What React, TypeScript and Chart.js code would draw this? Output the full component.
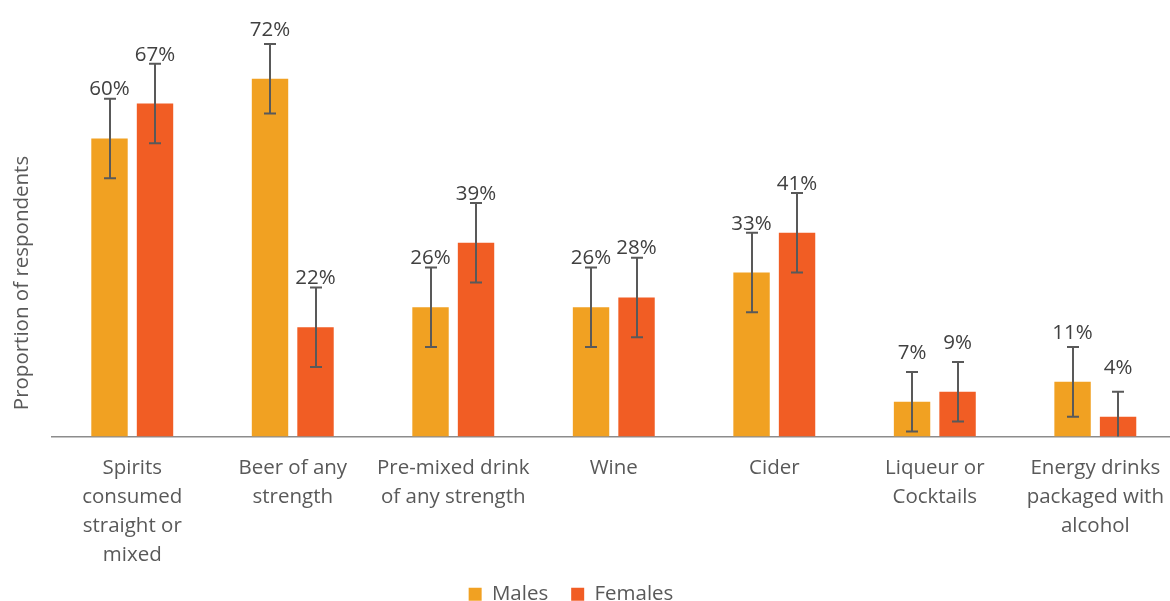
import React, { useEffect, useRef } from "react";
import { Chart, registerables } from "chart.js";

Chart.register(...registerables);

// ---------- data ----------
const categories: string[][] = [
  ["Spirits", "consumed", "straight or", "mixed"],
  ["Beer of any", "strength"],
  ["Pre-mixed drink", "of any strength"],
  ["Wine"],
  ["Cider"],
  ["Liqueur or", "Cocktails"],
  ["Energy drinks", "packaged with", "alcohol"],
];
const seriesNames = ["Males", "Females"];
const malesValues = [60, 72, 26, 26, 33, 7, 11];
const femalesValues = [67, 22, 39, 28, 41, 9, 4];
const malesErrors = [8, 7, 8, 8, 8, 6, 7];
const femalesErrors = [8, 8, 8, 8, 8, 6, 5];
const yAxisTitle = "Proportion of respondents";
const yMin = 0;
const yMax = 80;

// ---------- styles ----------
const FONT = "'Open Sans', 'DejaVu Sans', sans-serif";
const FONT_SIZE = 20.5;
const MALE_COLOR = "#F1A122";
const FEMALE_COLOR = "#F15D24";
const ERR_COLOR = "#595959";
const LABEL_COLOR = "#404040";
const TEXT_COLOR = "#595959";
const CANVAS_W = 1216;
const CANVAS_H = 630;
const CANVAS_SHIFT = 35;
const LEGEND_PAD = 23;
const LEGEND_TOP = 561;
const LEGEND_DX = -2;

const overlayPlugin = {
  id: "overlay",
  afterLayout(chart: any) {
    const lg = chart.legend;
    if (lg) {
      const dy = lg.top - LEGEND_TOP;
      lg.top -= dy;
      lg.bottom -= dy;
      lg.left += LEGEND_DX;
      lg.right += LEGEND_DX;
    }
  },
  afterDatasetsDraw(chart: any) {
    const ctx: CanvasRenderingContext2D = chart.ctx;
    const yScale = chart.scales.y;
    ctx.save();
    // error bars
    chart.data.datasets.forEach((ds: any, di: number) => {
      const meta = chart.getDatasetMeta(di);
      meta.data.forEach((bar: any, i: number) => {
        const v = ds.data[i];
        const e = ds.errors[i];
        const top = yScale.getPixelForValue(v + e);
        const lowVal = v - e;
        const bot = yScale.getPixelForValue(Math.max(lowVal, yMin));
        const x = Math.round(bar.x);
        ctx.strokeStyle = ERR_COLOR;
        ctx.lineWidth = 2;
        ctx.beginPath();
        ctx.moveTo(x, top);
        ctx.lineTo(x, bot);
        ctx.moveTo(x - 6, top);
        ctx.lineTo(x + 6, top);
        if (lowVal >= yMin) {
          ctx.moveTo(x - 6, bot);
          ctx.lineTo(x + 6, bot);
        }
        ctx.stroke();
      });
    });
    // value labels
    ctx.fillStyle = LABEL_COLOR;
    ctx.font = `${FONT_SIZE}px ${FONT}`;
    ctx.textAlign = "center";
    ctx.textBaseline = "alphabetic";
    chart.data.datasets.forEach((ds: any, di: number) => {
      const meta = chart.getDatasetMeta(di);
      meta.data.forEach((bar: any, i: number) => {
        ctx.fillText(`${ds.data[i]}%`, bar.x, bar.y - 43);
      });
    });
    ctx.restore();
  },
  afterDraw(chart: any) {
    const ctx: CanvasRenderingContext2D = chart.ctx;
    ctx.save();
    ctx.translate(CANVAS_SHIFT + 22, 283);
    ctx.rotate(-Math.PI / 2);
    ctx.fillStyle = TEXT_COLOR;
    ctx.font = `${FONT_SIZE}px ${FONT}`;
    ctx.textAlign = "center";
    ctx.textBaseline = "middle";
    ctx.fillText(yAxisTitle, 0, 0);
    ctx.restore();
  },
};

export default function App() {
  const canvasRef = useRef<HTMLCanvasElement | null>(null);

  useEffect(() => {
    let chart: Chart | null = null;
    let cancelled = false;
    const build = () => {
      if (cancelled || !canvasRef.current) return;
      chart = new Chart(canvasRef.current, {
        type: "bar",
        data: {
          labels: categories,
          datasets: [
            {
              label: seriesNames[0],
              data: malesValues,
              errors: malesErrors,
              backgroundColor: MALE_COLOR,
              borderWidth: 0,
              barPercentage: 0.8,
              categoryPercentage: 0.567,
            } as any,
            {
              label: seriesNames[1],
              data: femalesValues,
              errors: femalesErrors,
              backgroundColor: FEMALE_COLOR,
              borderWidth: 0,
              barPercentage: 0.8,
              categoryPercentage: 0.567,
            } as any,
          ],
        },
        options: {
          responsive: false,
          animation: false,
          layout: { padding: { top: 39, left: 0, right: 0, bottom: 0 } },
          plugins: {
            legend: {
              position: "bottom",
              align: "center",
              labels: {
                boxWidth: 13,
                boxHeight: 13,
                padding: LEGEND_PAD,
                color: TEXT_COLOR,
                font: { family: FONT, size: FONT_SIZE },
              },
            },
            tooltip: { enabled: false },
            title: { display: false },
          },
          scales: {
            x: {
              grid: { display: false, drawTicks: false },
              border: { display: true, color: "#8c8c8c", width: 1.5 },
              ticks: {
                autoSkip: false,
                maxRotation: 0,
                minRotation: 0,
                padding: 17,
                color: TEXT_COLOR,
                font: { family: FONT, size: FONT_SIZE, lineHeight: 29 / FONT_SIZE },
              },
              afterFit: (s: any) => {
                s.height = 140;
              },
            },
            y: {
              min: yMin,
              max: yMax,
              grid: { display: false, drawTicks: false },
              border: { display: false },
              ticks: { display: false },
              afterFit: (s: any) => {
                s.width = 87;
              },
            },
          },
        } as any,
        plugins: [overlayPlugin],
      });
    };
    const fontsApi: any = (document as any).fonts;
    if (fontsApi && fontsApi.load) {
      fontsApi.load(`20px 'Open Sans'`).then(build, build);
    } else {
      build();
    }
    return () => {
      cancelled = true;
      if (chart) chart.destroy();
    };
  }, []);

  return (
    <div
      style={{
        position: "fixed",
        left: 0,
        top: 0,
        width: 1170,
        height: 601,
        overflow: "hidden",
        background: "#ffffff",
      }}
    >
      <canvas
        ref={canvasRef}
        width={CANVAS_W}
        height={CANVAS_H}
        style={{ position: "absolute", left: -CANVAS_SHIFT, top: 0, width: CANVAS_W, height: CANVAS_H }}
      />
    </div>
  );
}
